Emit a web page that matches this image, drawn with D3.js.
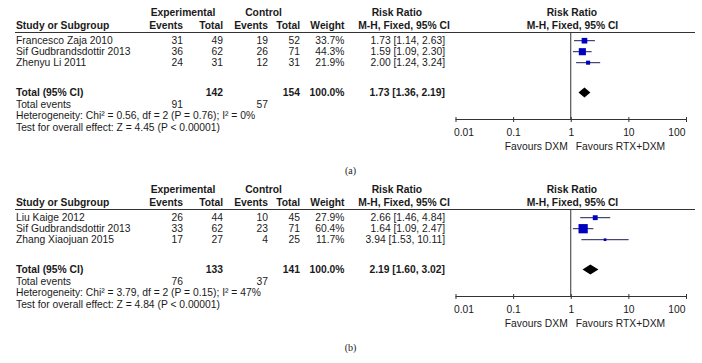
<!DOCTYPE html>
<html>
<head>
<meta charset="utf-8">
<script src="https://cdn.jsdelivr.net/npm/d3@7"></script>
<style>
body { margin:0; background:#fff; }
svg text { font-family: "Liberation Sans", Arial, sans-serif; font-size:10.3px; fill:#1a1a1a; }
</style>
</head>
<body>
<svg id="chart" width="702" height="363"></svg>
<script>
// panel (a)
var studiesA = ["Francesco Zaja 2010", "Sif Gudbrandsdottir 2013", "Zhenyu Li 2011"];
var expEventsA = [31, 36, 24];
var expTotalA = [49, 62, 31];
var ctlEventsA = [19, 26, 12];
var ctlTotalA = [52, 71, 31];
var weightA = [33.7, 44.3, 21.9];
var rrA = [[1.73, 1.14, 2.63], [1.59, 1.09, 2.30], [2.00, 1.24, 3.24]];
var totalA = {exp:142, ctl:154, ev1:91, ev2:57, rr:[1.73, 1.36, 2.19],
  het:"Heterogeneity: Chi² = 0.56, df = 2 (P = 0.76); I² = 0%",
  test:"Test for overall effect: Z = 4.45 (P < 0.00001)"};

// panel (b)
var studiesB = ["Liu Kaige 2012", "Sif Gudbrandsdottir 2013", "Zhang Xiaojuan 2015"];
var expEventsB = [26, 33, 17];
var expTotalB = [44, 62, 27];
var ctlEventsB = [10, 23, 4];
var ctlTotalB = [45, 71, 25];
var weightB = [27.9, 60.4, 11.7];
var rrB = [[2.66, 1.46, 4.84], [1.64, 1.09, 2.47], [3.94, 1.53, 10.11]];
var totalB = {exp:133, ctl:141, ev1:76, ev2:37, rr:[2.19, 1.60, 3.02],
  het:"Heterogeneity: Chi² = 3.79, df = 2 (P = 0.15); I² = 47%",
  test:"Test for overall effect: Z = 4.84 (P < 0.00001)"};

var tickVals = [0.01, 0.1, 1, 10, 100];
var tickLabels = ["0.01", "0.1", "1", "10", "100"];

var svg = d3.select("#chart");
var x = d3.scaleLog().domain([0.01, 100]).range([455.5, 686]);
var sz = d3.scaleLinear().domain([0, 100]).range([1.1, 14.6]);
var rowY = d3.scalePoint().domain([0, 1, 2]).range([40.7, 62.7]);

function fmt(v) { return v[0].toFixed(2) + " [" + v[1].toFixed(2) + ", " + v[2].toFixed(2) + "]"; }

function txt(g, s, px, py, anchor, bold)
{
	var t = g.append("text").attr("x", px).attr("y", py).attr("dy", "0.36em")
		.attr("text-anchor", anchor || "start").text(s);
	if (bold) t.attr("font-weight", "bold");
	return t;
}

function drawPanel(dy, studies, e1, t1, e2, t2, w, rr, tot, cap)
{
	var g = svg.append("g").attr("transform", "translate(0," + dy + ")");

	// headers
	txt(g, "Experimental", 183, 11.8, "middle", true);
	txt(g, "Control", 263.5, 11.8, "middle", true);
	txt(g, "Risk Ratio", 371.7, 11.8, "start", true);
	txt(g, "Risk Ratio", 546.7, 11.8, "start", true);
	txt(g, "Study or Subgroup", 16, 25, "start", true);
	txt(g, "Events", 183, 25, "end", true);
	txt(g, "Total", 223, 25, "end", true);
	txt(g, "Events", 268, 25, "end", true);
	txt(g, "Total", 300, 25, "end", true);
	txt(g, "Weight", 344.5, 25, "end", true);
	txt(g, "M-H, Fixed, 95% CI", 358.3, 25, "start", true);
	txt(g, "M-H, Fixed, 95% CI", 526.7, 25, "start", true);
	g.append("line").attr("x1", 15).attr("x2", 695).attr("y1", 32.5).attr("y2", 32.5)
		.attr("stroke", "#333").attr("stroke-width", 1);

	// rows
	studies.forEach(function(s, i) {
		var yy = rowY(i);
		txt(g, s, 16, yy);
		txt(g, e1[i], 183, yy, "end");
		txt(g, t1[i], 223, yy, "end");
		txt(g, e2[i], 268, yy, "end");
		txt(g, t2[i], 300, yy, "end");
		txt(g, w[i].toFixed(1) + "%", 344.5, yy, "end");
		txt(g, fmt(rr[i]), 445, yy, "end");
	});

	// totals
	txt(g, "Total (95% CI)", 16, 92, "start", true);
	txt(g, tot.exp, 223, 92, "end", true);
	txt(g, tot.ctl, 300, 92, "end", true);
	txt(g, "100.0%", 344.5, 92, "end", true);
	txt(g, fmt(tot.rr), 445, 92, "end", true);
	txt(g, "Total events", 16, 104);
	txt(g, tot.ev1, 183, 104, "end");
	txt(g, tot.ev2, 268, 104, "end");
	txt(g, tot.het, 16, 115.7);
	txt(g, tot.test, 16, 127.2);

	// null line
	g.append("line").attr("x1", x(1)).attr("x2", x(1)).attr("y1", 32.5).attr("y2", 119.5)
		.attr("stroke", "#333").attr("stroke-width", 1);

	// CIs and squares
	g.selectAll(".ci").data(rr).enter().append("line")
		.attr("x1", function(d) { return x(d[1]); })
		.attr("x2", function(d) { return x(d[2]); })
		.attr("y1", function(d, i) { return rowY(i); })
		.attr("y2", function(d, i) { return rowY(i); })
		.attr("stroke", "#1c1c5a").attr("stroke-width", 1);
	g.selectAll(".sq").data(rr).enter().append("rect")
		.attr("x", function(d, i) { return x(d[0]) - sz(w[i]) / 2; })
		.attr("y", function(d, i) { return rowY(i) - sz(w[i]) / 2; })
		.attr("width", function(d, i) { return sz(w[i]); })
		.attr("height", function(d, i) { return sz(w[i]); })
		.attr("fill", "#0000c0");

	// diamond
	var r = tot.rr, cy = 92.5;
	g.append("path")
		.attr("d", "M" + x(r[1]) + "," + cy + "L" + x(r[0]) + "," + (cy - 5) + "L" + x(r[2]) + "," + cy +
			"L" + x(r[0]) + "," + (cy + 5) + "Z")
		.attr("fill", "#000");

	// axis
	var ax = g.append("g").attr("transform", "translate(0,119.5)")
		.call(d3.axisBottom(x).tickValues(tickVals).tickSize(5)
			.tickFormat(function(d, i) { return tickLabels[i]; }));
	ax.select(".domain").attr("stroke", "#333").attr("d", "M" + x(0.01) + ",0H" + x(100));
	ax.selectAll(".tick line").attr("y1", -2.5).attr("y2", 2.5).attr("stroke", "#333");
	ax.selectAll(".tick text").attr("y", 12.5).attr("dy", "0.36em")
		.style("font-family", "'Liberation Sans', Arial, sans-serif").style("font-size", "10.3px")
		.attr("fill", "#1a1a1a")
		.attr("text-anchor", function(d, i) { return i == 0 ? "start" : (i == tickVals.length - 1 ? "end" : "middle"); })
		.attr("dx", function(d, i) { return i == 0 ? -2 : (i == tickVals.length - 1 ? -1 : 0); });

	txt(g, "Favours DXM", x(1) - 3, 146.7, "end");
	txt(g, "Favours RTX+DXM", x(1) + 5, 146.7, "start");

	txt(g, cap, 350.5, 170, "middle").style("font-family", "'Liberation Serif', 'Times New Roman', serif")
		.style("font-size", "10px");
}

drawPanel(0, studiesA, expEventsA, expTotalA, ctlEventsA, ctlTotalA, weightA, rrA, totalA, "(a)");
drawPanel(177, studiesB, expEventsB, expTotalB, ctlEventsB, ctlTotalB, weightB, rrB, totalB, "(b)");
</script>
</body>
</html>
